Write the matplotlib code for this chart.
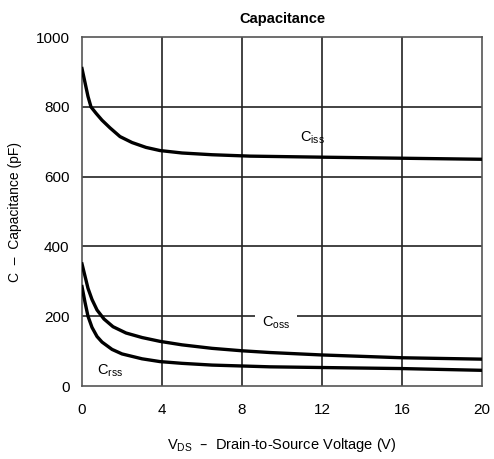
import matplotlib
matplotlib.use("Agg")
import matplotlib.pyplot as plt
import numpy as np

plt.rcParams['font.family'] = ['Liberation Sans', 'DejaVu Sans']
plt.rcParams['mathtext.default'] = 'regular'

# Valores (V_DS en V, capacitancia en pF)
vds_ciss = [0, 0.15, 0.3, 0.45, 0.7, 1.0, 1.4, 1.9, 2.5, 3.2, 3.9, 5, 6.5, 8.4, 12, 16, 20]
ciss = [910, 870, 830, 800, 782, 762, 740, 715, 698, 684, 675, 668, 663, 659, 656, 653, 650]

vds_coss = [0, 0.15, 0.3, 0.5, 0.75, 1.1, 1.55, 2.2, 3.0, 3.9, 5, 6.5, 8, 9.4, 12, 16, 20]
coss = [350, 315, 280, 248, 218, 192, 170, 152, 139, 128, 118, 108, 101, 96, 89, 81, 77]

vds_crss = [0, 0.15, 0.3, 0.5, 0.75, 1.0, 1.5, 2.0, 3.0, 3.9, 5, 6.5, 9.4, 12, 16, 20]
crss = [285, 240, 200, 168, 142, 126, 105, 92, 78, 70, 65, 60, 55, 53, 50, 45]

xticks = [0, 4, 8, 12, 16, 20]
yticks = [0, 200, 400, 600, 800, 1000]

fig = plt.figure(figsize=(4.94, 4.59), dpi=100)
ax = fig.add_axes([0.166, 0.159, 0.81, 0.76])

# Cuadricula
for x in xticks[1:-1]:
    ax.axvline(x, color='#222222', linewidth=1.2, zorder=1)
for y in yticks[1:-1]:
    ax.axhline(y, color='#222222', linewidth=1.2, zorder=1)

ax.plot(vds_ciss, ciss, color='black', linewidth=2.4, zorder=3)
ax.plot(vds_coss, coss, color='black', linewidth=2.4, zorder=3)
ax.plot(vds_crss, crss, color='black', linewidth=2.4, zorder=3)

ax.text(10.9, 712, '$C_{iss}$', fontsize=10.5, ha='left', va='center', zorder=4)
ax.text(9.0, 180, '$C_{oss}$', fontsize=10.5, ha='left', va='center', zorder=4,
        bbox=dict(facecolor='white', edgecolor='none', pad=5))
ax.text(0.75, 45, '$C_{rss}$', fontsize=10.5, ha='left', va='center', zorder=4)

ax.set_xlim(0, 20)
ax.set_ylim(0, 1000)
ax.set_xticks(xticks)
ax.set_yticks(yticks)
ax.tick_params(length=0, labelsize=11, pad=9)
ax.tick_params(axis='x', pad=12)

for s in ax.spines.values():
    s.set_color('#555555')
    s.set_linewidth(1.2)

ax.set_title('Capacitance', fontsize=10.5, fontweight='bold', pad=10)
ax.set_ylabel('C  –  Capacitance (pF)', fontsize=10, labelpad=10)
ax.set_xlabel('$V_{DS}$  –  Drain-to-Source Voltage (V)', fontsize=10.5, labelpad=14)

fig.savefig('out.png', dpi=100)
